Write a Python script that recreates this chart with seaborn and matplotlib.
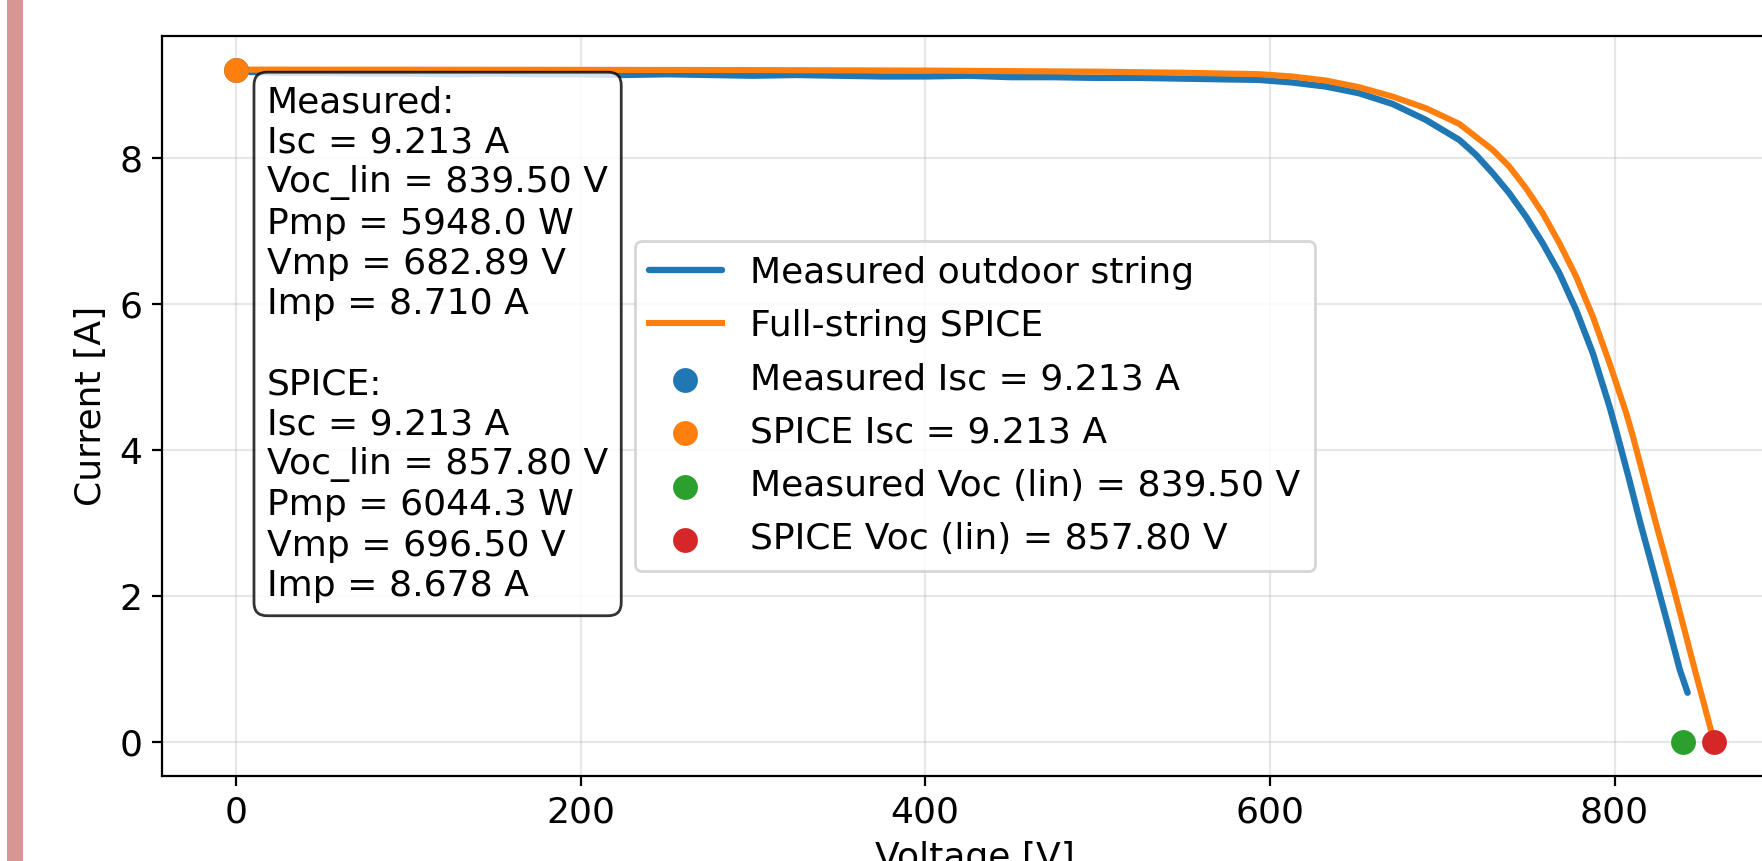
import matplotlib
matplotlib.use("Agg")
import matplotlib.pyplot as plt
from matplotlib.patches import Rectangle
import seaborn as sns
import pandas as pd

# ---- data ----
meas_v = [0, 10, 25, 50, 75, 100, 125, 150, 175, 200, 225, 250, 275, 300, 325,
          350, 375, 400, 425, 450, 475, 500, 525, 550, 575, 593.6, 613.0, 632.4,
          651.7, 671.1, 690.5, 709.9, 719.6, 729.3, 738.9, 748.6, 758.3, 768.0,
          777.7, 787.4, 797.1, 801.9, 808.5, 815.0, 820.8, 826.5, 832.2, 837.8,
          842.4]
meas_i = [9.19, 9.18, 9.17, 9.17, 9.16, 9.16, 9.15, 9.16, 9.15, 9.15, 9.14, 9.15,
          9.14, 9.13, 9.14, 9.13, 9.12, 9.12, 9.13, 9.11, 9.11, 9.10, 9.10, 9.09,
          9.08, 9.073, 9.037, 8.982, 8.890, 8.744, 8.525, 8.251, 8.046, 7.795,
          7.521, 7.201, 6.836, 6.425, 5.922, 5.329, 4.598, 4.187, 3.60, 3.00,
          2.50, 2.00, 1.50, 1.00, 0.68]

spice_v = [0, 100, 200, 300, 400, 500, 550, 593.6, 613.0, 632.4, 651.7, 671.1,
           690.5, 709.9, 729.3, 738.9, 748.6, 758.3, 768.0, 777.7, 787.4, 797.1,
           806.8, 810.7, 817.5, 824.0, 829.8, 835.5, 841.0, 846.5, 852.2, 857.8]
spice_i = [9.213, 9.212, 9.210, 9.207, 9.200, 9.185, 9.170, 9.151, 9.119, 9.064,
           8.973, 8.845, 8.685, 8.470, 8.114, 7.886, 7.589, 7.247, 6.836, 6.379,
           5.831, 5.192, 4.507, 4.187, 3.58, 3.00, 2.50, 2.00, 1.50, 1.00, 0.50,
           0.00]

meas_isc, spice_isc = 9.213, 9.213
meas_voc, spice_voc = 839.50, 857.80
meas_pmp, spice_pmp = 5948.0, 6044.3
meas_vmp, spice_vmp = 682.89, 696.50
meas_imp, spice_imp = 8.710, 8.678

# ---- figure ----
plt.rcParams["font.size"] = 13
plt.rcParams["font.family"] = ["DejaVu Sans"]

fig = plt.figure(figsize=(8.81, 4.305), dpi=200)
ax = fig.add_axes([0.0919, 0.0987, 0.9229, 0.8595])

fig.patches.append(Rectangle((7 / 1762, 0), 16 / 1762, 1, transform=fig.transFigure,
                             facecolor="#d99595", edgecolor="none", zorder=0))

df_m = pd.DataFrame({"V": meas_v, "I": meas_i})
df_s = pd.DataFrame({"V": spice_v, "I": spice_i})

sns.lineplot(data=df_m, x="V", y="I", ax=ax, color="tab:blue", linewidth=2.3,
             sort=False, estimator=None, label="Measured outdoor string",
             solid_capstyle="round", solid_joinstyle="round")
sns.lineplot(data=df_s, x="V", y="I", ax=ax, color="tab:orange", linewidth=2.2,
             sort=False, estimator=None, label="Full-string SPICE",
             solid_joinstyle="round")

sns.scatterplot(x=[0], y=[meas_isc], ax=ax, color="tab:blue", s=80, linewidth=0,
                zorder=5, label=f"Measured Isc = {meas_isc:.3f} A")
sns.scatterplot(x=[0], y=[spice_isc], ax=ax, color="tab:orange", s=80, linewidth=0,
                zorder=5, label=f"SPICE Isc = {spice_isc:.3f} A")
sns.scatterplot(x=[meas_voc], y=[0], ax=ax, color="tab:green", s=80, linewidth=0,
                zorder=5, label=f"Measured Voc (lin) = {meas_voc:.2f} V")
sns.scatterplot(x=[spice_voc], y=[0], ax=ax, color="tab:red", s=80, linewidth=0,
                zorder=5, label=f"SPICE Voc (lin) = {spice_voc:.2f} V")

ax.set_xlabel("Voltage [V]")
ax.set_ylabel("Current [A]")
ax.grid(True, alpha=0.3)
ax.legend(loc="center", labelspacing=0.535)

txt = (
    "Measured:\n"
    f"Isc = {meas_isc:.3f} A\n"
    f"Voc_lin = {meas_voc:.2f} V\n"
    f"Pmp = {meas_pmp:.1f} W\n"
    f"Vmp = {meas_vmp:.2f} V\n"
    f"Imp = {meas_imp:.3f} A\n"
    "\n"
    "SPICE:\n"
    f"Isc = {spice_isc:.3f} A\n"
    f"Voc_lin = {spice_voc:.2f} V\n"
    f"Pmp = {spice_pmp:.1f} W\n"
    f"Vmp = {spice_vmp:.2f} V\n"
    f"Imp = {spice_imp:.3f} A"
)
ax.text(0.0646, 0.9335, txt, transform=ax.transAxes, va="top", ha="left",
        linespacing=1.227,
        bbox=dict(boxstyle="round,pad=0.36", facecolor="white", edgecolor="black",
                  alpha=0.8), zorder=6)

fig.savefig("out.png", dpi=200)
